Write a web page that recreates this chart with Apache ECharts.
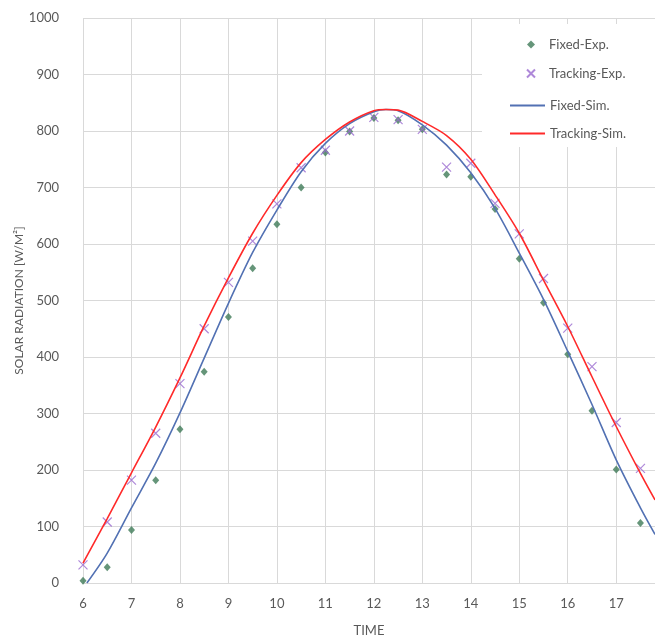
<!DOCTYPE html>
<html>
<head>
<meta charset="utf-8">
<script src="https://cdn.jsdelivr.net/npm/echarts@6/dist/echarts.min.js"></script>
<style>html,body{margin:0;padding:0;background:#fff;overflow:hidden}#c{width:655px;height:637px}</style>
</head>
<body>
<div id="c"></div>
<script>
var expTimes = [6,6.5,7,7.5,8,8.5,9,9.5,10,10.5,11,11.5,12,12.5,13,13.5,14,14.5,15,15.5,16,16.5,17,17.5];
var fixedExp = [4,28,94,182,272,374,471,557,635,700,762,799,823,819,803,723,719,662,574,496,405,305,201,106];
var trackingExp = [32,108,182,265,353,450,532,605,671,735,766,800,824,820,803,736,743,672,618,539,451,383,284,203];
var simTimes = [6.08,6.5,7,7.5,8,8.5,9,9.5,10,10.5,11,11.5,12,12.25,12.5,13,13.5,14,14.5,15,15.5,16,16.5,17,17.5,17.8];
var fixedSim = [0,53,133,212,301,398,495,585,660,728,778,813,834,838,836,811,775,726,663,584,502,410,316,218,133,86];
var trackingSimTimes = [6,6.5,7,7.5,8,8.5,9,9.5,10,10.5,11,11.5,12,12.25,12.5,13,13.5,14,14.5,15,15.5,16,16.5,17,17.5,17.8];
var trackingSim = [35,114,195,276,363,455,540,619,686,744,785,816,836,838,837,817,792,750,687,619,536,454,365,277,194,147];
var xTickLabels = ['6','7','8','9','10','11','12','13','14','15','16','17'];
var yTickLabels = ['0','100','200','300','400','500','600','700','800','900','1000'];

function pairs(xs, ys){ return xs.map(function(x,i){ return [x, ys[i]]; }); }

var font = 'Lato';
var gray = '#595959';
var chart = echarts.init(document.getElementById('c'), null, {renderer:'canvas', width: 655, height: 637});
chart.setOption({
  animation: false,
  backgroundColor: '#fff',
  textStyle: {fontFamily: font},
  grid: {left: 83, top: 18, width: 572, height: 565, containLabel: false, outerBoundsMode: 'none'},
  xAxis: {
    type: 'value', min: 6, max: 17.8, interval: 1,
    name: 'TIME', nameLocation: 'middle', nameGap: 41,
    nameTextStyle: {color: gray, fontSize: 13, fontFamily: font},
    axisLine: {show: true, lineStyle: {color: '#d9d9d9'}},
    axisTick: {show: false},
    splitLine: {show: true, lineStyle: {color: '#d9d9d9', width: 1}},
    axisLabel: {color: gray, fontSize: 13, margin: 14, fontFamily: font,
      formatter: function(v){ var s = String(v); return xTickLabels.indexOf(s) >= 0 ? s : ''; }}
  },
  yAxis: {
    type: 'value', min: 0, max: 1000, interval: 100,
    name: 'SOLAR RADIATION [W/M²]', nameLocation: 'middle', nameGap: 58, nameRotate: 90, nameMoveOverlap: false,
    nameTextStyle: {color: gray, fontSize: 12, fontFamily: font},
    axisLine: {show: false},
    axisTick: {show: false},
    splitLine: {show: true, lineStyle: {color: '#d9d9d9', width: 1}},
    axisLabel: {color: gray, fontSize: 13, margin: 24, fontFamily: font,
      formatter: function(v){ var s = String(v); return yTickLabels.indexOf(s) >= 0 ? s : ''; }}
  },
  graphic: [{type: 'rect', left: 482, top: 24, shape: {width: 173, height: 123}, style: {fill: '#fff'}, z: 50, zlevel: 0}],
  legend: [
    {data: [{name: 'Fixed-Exp.'}, {name: 'Tracking-Exp.'}], orient: 'vertical', left: 521, top: 33, itemWidth: 8, itemHeight: 8, itemGap: 16, z: 60,
     textStyle: {color: gray, fontSize: 13, fontFamily: font, padding: [0,0,0,9]}},
    {data: [{name: 'Fixed-Sim.', icon: 'rect'}, {name: 'Tracking-Sim.', icon: 'rect'}], orient: 'vertical', left: 505, top: 94, itemWidth: 35, itemHeight: 2, itemGap: 15, z: 60,
     textStyle: {color: gray, fontSize: 13, fontFamily: font}}
  ],
  series: [
    {name: 'Fixed-Exp.', type: 'scatter', data: pairs(expTimes, fixedExp), symbol: 'diamond', symbolSize: [7,8],
     itemStyle: {color: '#3e7a58'}, z: 3},
    {name: 'Tracking-Exp.', type: 'scatter', data: pairs(expTimes, trackingExp),
     symbol: 'path://M0,0L10,10M10,0L0,10', symbolSize: 9,
     itemStyle: {color: 'rgba(0,0,0,0)', borderColor: '#9a6ad0', borderWidth: 1.2}, z: 4},
    {name: 'Fixed-Sim.', type: 'line', data: pairs(simTimes, fixedSim), symbol: 'none', smooth: 0.3,
     lineStyle: {color: '#5271b3', width: 1.6}, itemStyle: {color: '#5271b3'}, z: 5},
    {name: 'Tracking-Sim.', type: 'line', data: pairs(trackingSimTimes, trackingSim), symbol: 'none', smooth: 0.3,
     lineStyle: {color: '#ff2a2a', width: 1.6}, itemStyle: {color: '#ff2a2a'}, z: 6}
  ]
});
</script>
</body>
</html>
